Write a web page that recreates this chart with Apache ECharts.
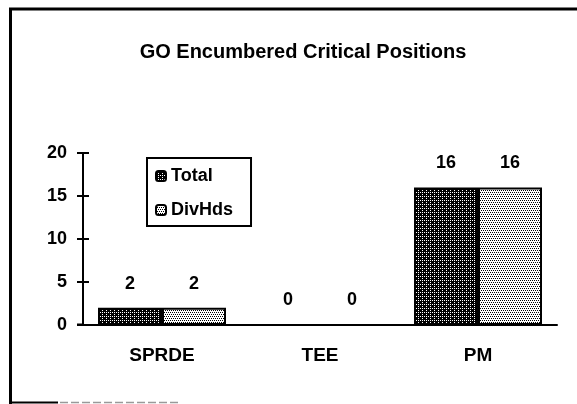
<!DOCTYPE html>
<html>
<head>
<meta charset="utf-8">
<script src="https://cdn.jsdelivr.net/npm/echarts@6/dist/echarts.min.js"></script>
<style>
html,body{margin:0;padding:0;background:#fff;}
#chart{width:577px;height:404px;}
</style>
</head>
<body>
<div id="chart"></div>
<script>
const titleText = 'GO Encumbered Critical Positions';
const categories = ['SPRDE', 'TEE', 'PM'];
const seriesNames = ['Total', 'DivHds'];
const totalValues = [2, 0, 16];
const divHdsValues = [2, 0, 16];
const yTicks = [0, 5, 10, 15, 20];

function makePattern(bg, fg, dots) {
  const c = document.createElement('canvas');
  c.width = 4; c.height = 4;
  const ctx = c.getContext('2d');
  ctx.fillStyle = bg; ctx.fillRect(0, 0, 4, 4);
  ctx.fillStyle = fg;
  dots.forEach(d => ctx.fillRect(d[0], d[1], 1, 1));
  return c;
}
const darkPat = makePattern('#000', '#fff', [[0,0],[2,2],[2,0]]);
const lightPat = makePattern('#fff', '#000', [[0,0],[2,0],[1,2],[3,2]]);

const font = '"Liberation Sans", Arial, sans-serif';
const chart = echarts.init(document.getElementById('chart'), null, {renderer: 'canvas'});

const labelCfg = {
  show: true, position: 'top', distance: 15,
  color: '#000', fontWeight: 'bold', fontSize: 18, fontFamily: font
};

chart.setOption({
  backgroundColor: '#fff',
  animation: false,
  title: {
    text: titleText,
    left: 298, top: 37, textAlign: 'center',
    textStyle: {fontSize: 20, fontWeight: 'bold', color: '#000', fontFamily: font}
  },
  legend: {
    orient: 'vertical',
    left: 147, top: 158,
    data: seriesNames,
    itemWidth: 10, itemHeight: 10, itemGap: 16,
    padding: [9, 18, 7, 8],
    borderColor: '#000', borderWidth: 2, backgroundColor: '#fff',
    textStyle: {fontSize: 18, fontWeight: 'bold', color: '#000', fontFamily: font}
  },
  grid: {left: 83, right: 20, top: 153, bottom: 79},
  xAxis: {
    type: 'category',
    data: categories,
    axisLine: {lineStyle: {color: '#000', width: 2}},
    axisTick: {show: false},
    axisLabel: {margin: 21, color: '#000', fontWeight: 'bold', fontSize: 19, fontFamily: font}
  },
  yAxis: [{
    type: 'value', min: yTicks[0], max: yTicks[yTicks.length - 1], interval: yTicks[1] - yTicks[0],
    splitLine: {show: false},
    axisLine: {show: true, lineStyle: {color: '#000', width: 2}},
    axisTick: {show: true, length: 6, lineStyle: {color: '#000', width: 2}},
    axisLabel: {margin: 16, color: '#000', fontWeight: 'bold', fontSize: 18, fontFamily: font}
  }, {
    type: 'value', position: 'left', offset: 0,
    min: yTicks[0], max: yTicks[yTicks.length - 1], interval: yTicks[1] - yTicks[0],
    splitLine: {show: false},
    axisLine: {show: false},
    axisTick: {show: true, inside: true, length: 6, lineStyle: {color: '#000', width: 2}},
    axisLabel: {show: false}
  }],
  series: [{
    name: seriesNames[0], type: 'bar', data: totalValues,
    barWidth: 64, barGap: '0%',
    itemStyle: {color: {image: darkPat, repeat: 'repeat'}, borderColor: '#000', borderWidth: 2},
    label: labelCfg
  }, {
    name: seriesNames[1], type: 'bar', data: divHdsValues,
    barWidth: 64, barGap: '0%',
    itemStyle: {color: {image: lightPat, repeat: 'repeat'}, borderColor: '#000', borderWidth: 2},
    label: labelCfg
  }],
  graphic: [
    {type: 'line', shape: {x1: 9, y1: 9, x2: 577, y2: 9}, style: {stroke: '#000', lineWidth: 3}},
    {type: 'line', shape: {x1: 10.5, y1: 8, x2: 10.5, y2: 404}, style: {stroke: '#000', lineWidth: 3}},
    {type: 'line', shape: {x1: 10, y1: 402.5, x2: 58, y2: 402.5}, style: {stroke: '#000', lineWidth: 2}},
    {type: 'line', shape: {x1: 60, y1: 402.5, x2: 180, y2: 402.5}, style: {stroke: '#999', lineWidth: 1.5, lineDash: [8, 3]}},
    {type: 'line', shape: {x1: 77, y1: 324.5, x2: 84, y2: 324.5}, style: {stroke: '#000', lineWidth: 2}}
  ]
});
</script>
</body>
</html>
